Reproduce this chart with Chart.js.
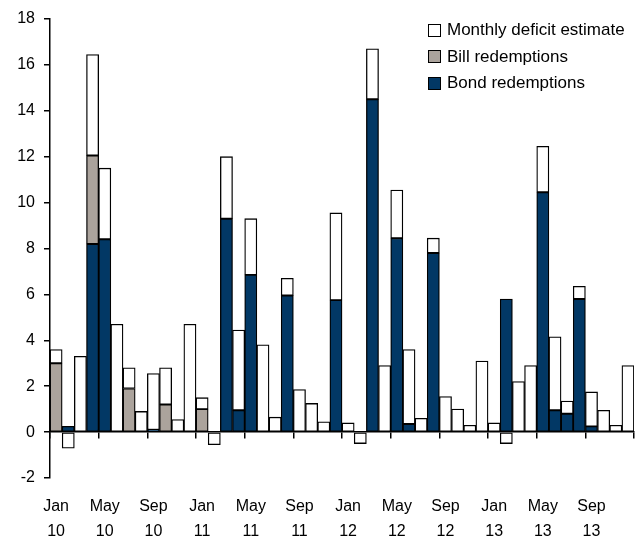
<!DOCTYPE html>
<html>
<head>
<meta charset="utf-8">
<script src="https://cdn.jsdelivr.net/npm/chart.js@4/dist/chart.umd.min.js"></script>
<style>
  body { margin: 0; background: #fff; }
  #wrap { position: relative; width: 644px; height: 540px; }
  #legend { position: absolute; left: 428px; top: 17px; font-family: "Liberation Sans", Arial, sans-serif; font-size: 17px; color: #000; }
  #legend div { height: 26.5px; display: flex; align-items: center; white-space: nowrap; }
  #legend span.box { display: inline-block; width: 11px; height: 11px; border: 1px solid #000; margin-right: 6px; }
</style>
</head>
<body>
<div id="wrap">
  <canvas id="deficitChart" width="644" height="540"></canvas>
  <div id="legend"></div>
</div>
<script>
const months = ["Jan", "Feb", "Mar", "Apr", "May", "Jun", "Jul", "Aug", "Sep", "Oct", "Nov", "Dec"];
const years = ["10", "11", "12", "13"];
const labels = [];
years.forEach(y => months.forEach(m => labels.push(m + " " + y)));
// four-month blocks, used only for the tick marks on the zero line
const blocks = [];
years.forEach(y => ["Jan", "May", "Sep"].forEach(m => blocks.push(m + " " + y)));

// values (Jan 10 .. Dec 13)
const bondRedemptions = [
    0, 0.25, 0, 8.2, 8.4, 0, 0, 0, 0.1, 0, 0, 0,
    0, 0, 9.3, 0.95, 6.85, 0, 0, 5.95, 0, 0, 0, 5.75,
    0, 0, 14.5, 0, 8.45, 0.35, 0, 7.8, 0, 0, 0, 0,
    0, 5.8, 0, 0, 10.45, 0.95, 0.8, 5.8, 0.25, 0, 0, 0,
];
const billRedemptions = [
    3.0, 0, 0, 3.85, 0, 0, 1.9, 0, 0, 1.2, 0, 0,
    1.0, 0, 0, 0, 0, 0, 0, 0, 0, 0, 0, 0,
    0, 0, 0, 0, 0, 0, 0, 0, 0, 0, 0, 0,
    0, 0, 0, 0, 0, 0, 0, 0, 0, 0, 0, 0,
];
const deficitEstimate = [
    0.6, -0.7, 3.3, 4.4, 3.1, 4.7, 0.9, 0.9, 2.45, 1.6, 0.55, 4.7,
    0.5, -0.55, 2.7, 3.5, 2.45, 3.8, 0.65, 0.75, 1.85, 1.25, 0.45, 3.8,
    0.4, -0.5, 2.2, 2.9, 2.1, 3.25, 0.6, 0.65, 1.55, 1.0, 0.3, 3.1,
    0.4, -0.5, 2.2, 2.9, 2.0, 3.2, 0.55, 0.55, 1.5, 0.95, 0.3, 2.9,
];

const fontFamily = '"Liberation Sans", Arial, sans-serif';

const barStyle = {
    borderColor: "#000",
    borderWidth: 1.3,
    borderSkipped: false,
    categoryPercentage: 1,
    barPercentage: 1,
};

const chartData = {
    labels: labels,
    datasets: [
        { label: "Bond redemptions", data: bondRedemptions, backgroundColor: "#023865", ...barStyle },
        { label: "Bill redemptions", data: billRedemptions, backgroundColor: "#aba39c", ...barStyle },
        { label: "Monthly deficit estimate", data: deficitEstimate, backgroundColor: "#ffffff", ...barStyle },
    ],
};

const chartConfig = {
    type: "bar",
    data: chartData,
    options: {
        responsive: false,
        animation: false,
        layout: { padding: { top: 19, right: 1, bottom: 0, left: 0 } },
        scales: {
            x: {
                stacked: true,
                offset: true,
                grid: { display: false, drawTicks: false },
                border: { display: false },
                ticks: {
                    autoSkip: false,
                    maxRotation: 0,
                    padding: 16,
                    color: "#000",
                    font: { family: fontFamily, size: 16, lineHeight: 1.55 },
                    callback: function (value, index) {
                        return index % 4 === 0 ? labels[index].split(" ") : "";
                    },
                },
                afterFit: function (scale) { scale.height = 62; },
            },
            x2: {
                type: "category",
                labels: blocks,
                position: { y: 0 },
                offset: true,
                z: 1,
                grid: {
                    offset: true,
                    drawOnChartArea: false,
                    tickLength: 6,
                    tickColor: "#000",
                    lineWidth: 1.5,
                },
                border: { color: "#000", width: 1.5 },
                ticks: { display: false },
            },
            y: {
                stacked: true,
                min: -2,
                max: 18,
                ticks: {
                    stepSize: 2,
                    padding: 9,
                    color: "#000",
                    font: { family: fontFamily, size: 16 },
                },
                grid: { drawOnChartArea: false, tickLength: 6, tickColor: "#000", lineWidth: 1.5 },
                border: { display: true, color: "#000", width: 1.5 },
                afterFit: function (scale) { scale.width = 50; },
            },
        },
        plugins: {
            legend: { display: false },
            tooltip: { enabled: false },
        },
    },
};

let deficitChart = new Chart(document.getElementById("deficitChart"), chartConfig);

// legend sits inside the plot, top right, listed top of stack first
const legendBox = document.getElementById("legend");
chartData.datasets.slice().reverse().forEach(ds => {
    const row = document.createElement("div");
    const sw = document.createElement("span");
    sw.className = "box";
    sw.style.background = ds.backgroundColor;
    row.appendChild(sw);
    row.appendChild(document.createTextNode(ds.label));
    legendBox.appendChild(row);
});
</script>
</body>
</html>
